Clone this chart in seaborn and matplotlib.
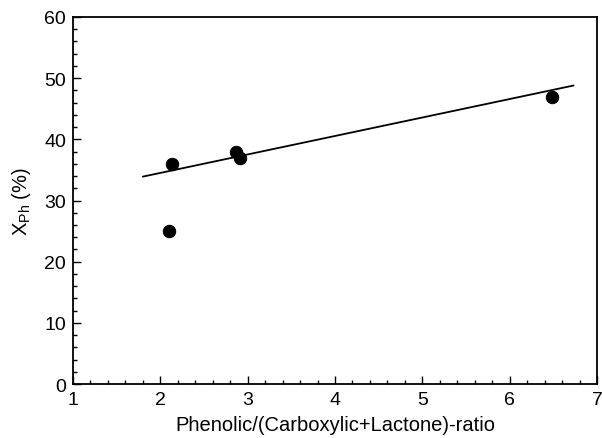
import matplotlib
matplotlib.use("Agg")
import matplotlib.pyplot as plt
import seaborn as sns
import numpy as np
import pandas as pd
from matplotlib.ticker import MultipleLocator

ratio = [2.10, 2.13, 2.87, 2.91, 6.48]
xph = [25.0, 36.0, 38.0, 37.0, 47.0]
fit_x = [1.80, 6.73]
fit_y = [33.9, 48.8]

sns.set_theme(style="white")
plt.rcParams['font.family'] = ['Liberation Sans', 'DejaVu Sans']
plt.rcParams['text.color'] = 'black'
plt.rcParams['axes.labelcolor'] = 'black'
plt.rcParams['xtick.color'] = 'black'
plt.rcParams['ytick.color'] = 'black'

fig = plt.figure(figsize=(6.02, 4.39), dpi=100)
ax = fig.add_axes([0.121, 0.123, 0.871, 0.836])

df = pd.DataFrame({"ratio": ratio, "xph": xph})
sns.lineplot(x=fit_x, y=fit_y, ax=ax, color="black", linewidth=1.3)
sns.scatterplot(data=df, x="ratio", y="xph", ax=ax, color="black", s=80, edgecolor="black", zorder=3)

ax.set_xlim(1, 7)
ax.set_ylim(0, 60)
ax.xaxis.set_major_locator(MultipleLocator(1))
ax.xaxis.set_minor_locator(MultipleLocator(0.2))
ax.yaxis.set_major_locator(MultipleLocator(10))
ax.yaxis.set_minor_locator(MultipleLocator(2))
ax.tick_params(which="major", direction="in", length=6, width=1, labelsize=14, color="black", labelcolor="black", bottom=True, left=True, top=False, right=False, pad=5)
ax.tick_params(which="minor", direction="in", length=3, width=1, color="black", bottom=True, left=True, top=False, right=False)
for s in ax.spines.values():
    s.set_color("black")
    s.set_linewidth(1.3)

ax.set_xlabel("Phenolic/(Carboxylic+Lactone)-ratio", fontsize=14.5, labelpad=5, color="black")
ax.set_ylabel(r"X$_{\mathregular{Ph}}$ (%)", fontsize=14.5, labelpad=8, color="black")

fig.savefig("out.png", dpi=100)
